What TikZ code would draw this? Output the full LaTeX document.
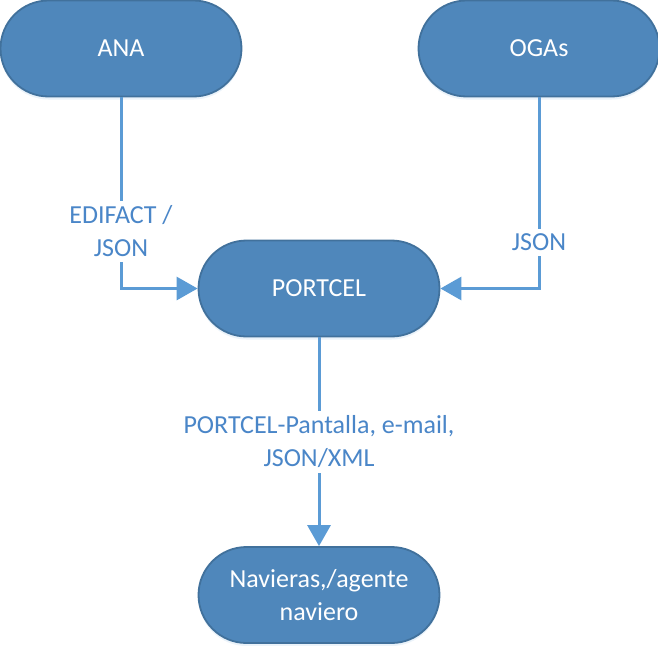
\documentclass[tikz,border=0pt]{standalone}
\usepackage{fontspec}
\setmainfont{Carlito}
\usepackage{tikz}
\definecolor{colorBOX}{HTML}{4F87BB}
\definecolor{colorRIM}{HTML}{41719C}
\definecolor{colorLNK}{HTML}{5B9BD5}
\definecolor{colorLBL}{HTML}{4A86C8}
\usetikzlibrary{arrows.meta}
\usetikzlibrary{shadows}
\tikzset{
   every path/.style={>={Triangle[length=21pt,width=23pt]}},
   stage/.style={rectangle,rounded corners=48pt,draw=colorRIM,line width=1.8pt,fill=colorBOX,
                 minimum width=241pt,minimum height=96pt,text=white,align=center,
                 font=\fontsize{26}{33}\selectfont,
                 drop shadow={shadow xshift=0pt,shadow yshift=-3pt,opacity=0.12,fill=colorLNK}},
   link/.style={->,color=colorLNK,line width=3pt},
   lbl/.style={fill=white,text=colorLBL,align=center,inner sep=5pt,font=\fontsize{26}{33}\selectfont},
}

\begin{document}
\begin{tikzpicture}[x=1pt,y=-1pt]

        \useasboundingbox (0,0) rectangle (658,645);

        \node[stage] (ana)  at (121, 48.5) {ANA};
        \node[stage] (ogas) at (539, 48.5) {OGAs};

        \node[stage] (portcel) at (319, 288.5) {PORTCEL};

        \node[stage] (nav) at (319, 595) {Navieras,/agente\\naviero};

        \draw[link] (ana)  |- node[lbl,pos=0.35] {EDIFACT /\\JSON} (portcel);
        \draw[link] (ogas) |- node[lbl,pos=0.38] {JSON} (portcel);

        \draw[link] (portcel) -- node[lbl] {PORTCEL-Pantalla, e-mail,\\JSON/XML} (nav);

      \end{tikzpicture}
\end{document}
